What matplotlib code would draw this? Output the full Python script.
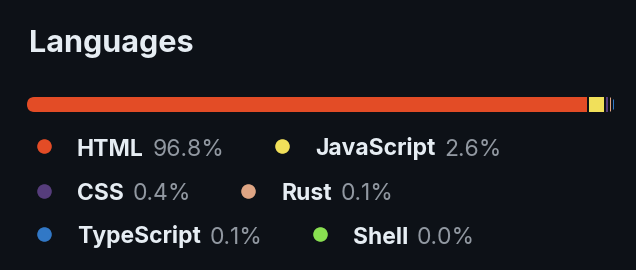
import matplotlib.pyplot as plt
from matplotlib.patches import FancyBboxPatch

# data
languages = ["HTML", "JavaScript", "CSS", "Rust", "TypeScript", "Shell"]
percents = [96.8, 2.6, 0.4, 0.1, 0.1, 0.0]
colors = ["#e34c26", "#f1e05a", "#563d7c", "#dea584", "#3178c6", "#89e051"]

bg = "#0d1117"
plt.rcParams['font.family'] = ['Inter', 'DejaVu Sans']

fig = plt.figure(figsize=(6.36, 2.70), dpi=100, facecolor=bg)
ax = fig.add_axes([0, 0, 1, 1])
ax.set_facecolor(bg)
ax.set_xlim(0, 636)
ax.set_ylim(270, 0)
ax.axis('off')

# title
ax.text(29, 52, "Languages", fontsize=22, fontweight='bold', color="#e6edf3", va='baseline')

# stacked bar, rounded, small gaps between segments
bar_x, bar_y, bar_w, bar_h = 27, 104.5, 588, 15
gap = 2
nonzero = [p for p in percents if p > 0]
scale = (bar_w - gap * (len(percents) - 1)) / sum(percents)
clip = FancyBboxPatch((bar_x, bar_y - bar_h / 2), bar_w, bar_h,
                      boxstyle="round,pad=0,rounding_size=7.5",
                      transform=ax.transData, facecolor='none', edgecolor='none')
ax.add_patch(clip)
left = bar_x
for p, c in zip(percents, colors):
    w = max(p * scale, 1.2)
    b = ax.barh(bar_y, w, left=left, height=bar_h, color=c, linewidth=0)
    for r in b:
        r.set_clip_path(clip)
    left += w + gap

# legend, two per row
renderer = fig.canvas.get_renderer()
row_ys = [146, 191, 234]
for i, (name, p, c) in enumerate(zip(languages, percents, colors)):
    row = i // 2
    y = row_ys[row]
    if i % 2 == 0:
        x = 44
    ax.plot(x, y, 'o', ms=10.5, color=c, mec='none')
    t = ax.text(x + 33, y + 9.5, name, fontsize=16.5, fontweight='bold',
                color="#e6edf3", va='baseline')
    bb = t.get_window_extent(renderer)
    t2 = ax.text(bb.x1 + 9, y + 9.5, f"{p:.1f}%", fontsize=16.5,
                 color="#9198a1", va='baseline')
    bb2 = t2.get_window_extent(renderer)
    x = bb2.x1 + 57

fig.savefig("out.png", dpi=100, facecolor=bg)
